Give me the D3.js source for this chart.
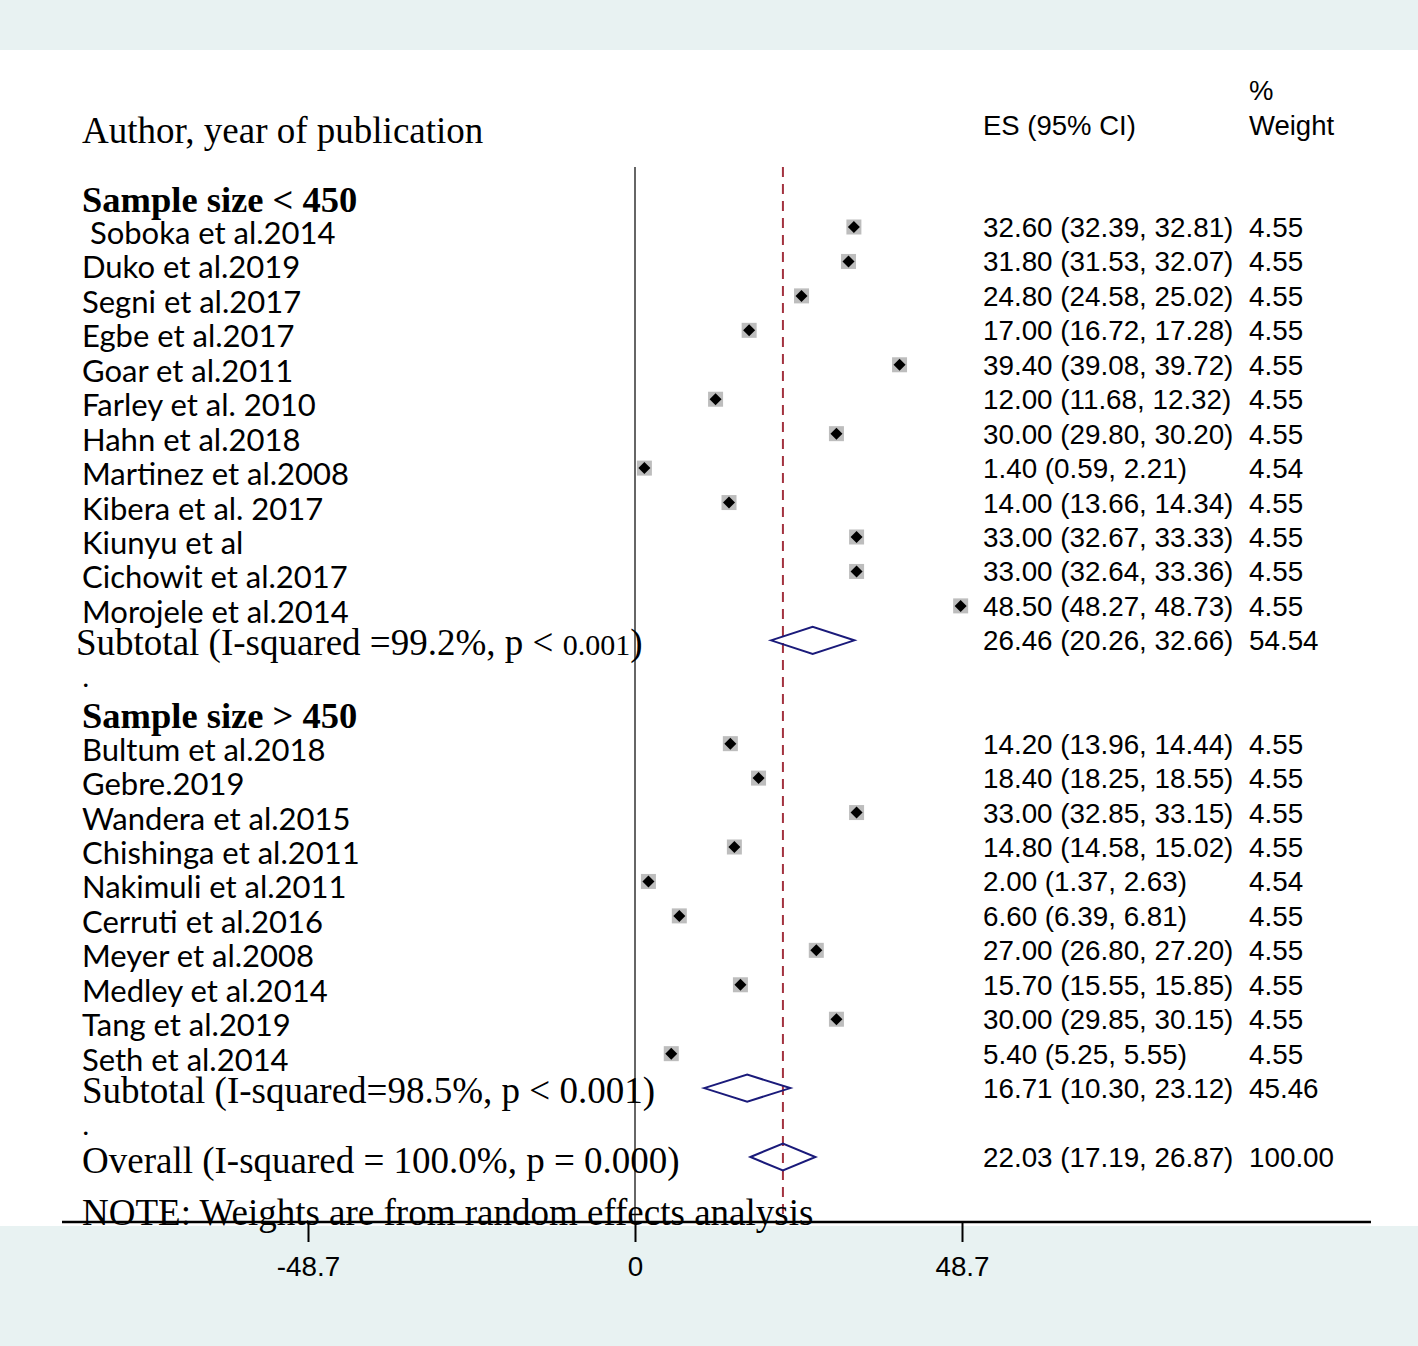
<!DOCTYPE html>
<html>
<head>
<meta charset="utf-8">
<script src="https://cdn.jsdelivr.net/npm/d3@7"></script>
<style>
  body { margin: 0; background: #fff; }
  svg { display: block; }
</style>
</head>
<body>
<div id="chart-area"></div>
<script>
// forest plot data
var group1Labels = [" Soboka et al.2014", "Duko et al.2019", "Segni et al.2017", "Egbe et al.2017",
  "Goar et al.2011", "Farley et al. 2010", "Hahn et al.2018", "Martinez et al.2008",
  "Kibera et al. 2017", "Kiunyu et al", "Cichowit et al.2017", "Morojele et al.2014"];
var group1ES = [32.60, 31.80, 24.80, 17.00, 39.40, 12.00, 30.00, 1.40, 14.00, 33.00, 33.00, 48.50];
var group1Lo = [32.39, 31.53, 24.58, 16.72, 39.08, 11.68, 29.80, 0.59, 13.66, 32.67, 32.64, 48.27];
var group1Hi = [32.81, 32.07, 25.02, 17.28, 39.72, 12.32, 30.20, 2.21, 14.34, 33.33, 33.36, 48.73];
var group1W = [4.55, 4.55, 4.55, 4.55, 4.55, 4.55, 4.55, 4.54, 4.55, 4.55, 4.55, 4.55];

var group2Labels = ["Bultum et al.2018", "Gebre.2019", "Wandera et al.2015", "Chishinga et al.2011",
  "Nakimuli et al.2011", "Cerruti et al.2016", "Meyer et al.2008", "Medley et al.2014",
  "Tang et al.2019", "Seth et al.2014"];
var group2ES = [14.20, 18.40, 33.00, 14.80, 2.00, 6.60, 27.00, 15.70, 30.00, 5.40];
var group2Lo = [13.96, 18.25, 32.85, 14.58, 1.37, 6.39, 26.80, 15.55, 29.85, 5.25];
var group2Hi = [14.44, 18.55, 33.15, 15.02, 2.63, 6.81, 27.20, 15.85, 30.15, 5.55];
var group2W = [4.55, 4.55, 4.55, 4.55, 4.54, 4.55, 4.55, 4.55, 4.55, 4.55];

// pooled estimates: subtotal 1, subtotal 2, overall
var pooledES = [26.46, 16.71, 22.03];
var pooledLo = [20.26, 10.30, 17.19];
var pooledHi = [32.66, 23.12, 26.87];
var pooledW = [54.54, 45.46, 100.00];

var xTicks = [-48.7, 0, 48.7];

var W = 1418, H = 1346;
var serif = "'Liberation Serif', 'Times New Roman', serif";
var sans = "'Liberation Sans', Arial, sans-serif";
var labelFont = "Lato, 'Noto Sans', sans-serif";

var svg = d3.select("#chart-area").append("svg")
  .attr("width", W)
  .attr("height", H);

// background bands top and bottom
svg.append("rect").attr("x", 0).attr("y", 0).attr("width", W).attr("height", 50).attr("fill", "#e8f2f2");
svg.append("rect").attr("x", 0).attr("y", 1226).attr("width", W).attr("height", H - 1226).attr("fill", "#e8f2f2");

var x = d3.scaleLinear().domain([-48.7, 48.7]).range([308, 962]);
// row index -> y
var y = d3.scaleLinear().domain([0, 27]).range([227, 1157]);

// build row table
var rows = [];
group1Labels.forEach(function(d, i) {
  rows.push({label: d, es: group1ES[i], lo: group1Lo[i], hi: group1Hi[i], w: group1W[i], row: i});
});
group2Labels.forEach(function(d, i) {
  rows.push({label: d, es: group2ES[i], lo: group2Lo[i], hi: group2Hi[i], w: group2W[i], row: 15 + i});
});
var pooled = pooledES.map(function(d, i) {
  return {es: d, lo: pooledLo[i], hi: pooledHi[i], w: pooledW[i], row: [12, 25, 27][i]};
});

var axisY = 1222;

// null line
svg.append("line")
  .attr("x1", x(0)).attr("x2", x(0))
  .attr("y1", 167).attr("y2", axisY)
  .attr("stroke", "#333").attr("stroke-width", 1.5);

// overall effect line
svg.append("line")
  .attr("x1", x(pooledES[2])).attr("x2", x(pooledES[2]))
  .attr("y1", 167).attr("y2", axisY)
  .attr("stroke", "#a3323f").attr("stroke-width", 2)
  .attr("stroke-dasharray", "10,7");

// headers
svg.append("text").attr("x", 82).attr("y", 143)
  .attr("font-family", serif).attr("font-size", 37).text("Author, year of publication");
svg.append("text").attr("x", 983).attr("y", 135)
  .attr("font-family", sans).attr("font-size", 27.5).text("ES (95% CI)");
svg.append("text").attr("x", 1249).attr("y", 100)
  .attr("font-family", sans).attr("font-size", 27.5).text("%");
svg.append("text").attr("x", 1249).attr("y", 135)
  .attr("font-family", sans).attr("font-size", 27.5).text("Weight");

// group headers
[["Sample size < 450", -1], ["Sample size > 450", 14]].forEach(function(h) {
  svg.append("text").attr("x", 82).attr("y", y(h[1]) + 19)
    .attr("font-family", serif).attr("font-size", 36.5).attr("font-weight", "bold")
    .text(h[0]);
});

// study labels
svg.selectAll("text.study").data(rows).enter().append("text")
  .attr("class", "study")
  .attr("x", 82)
  .attr("y", function(d) { return y(d.row) + 17; })
  .attr("font-family", labelFont).attr("font-size", 31)
  .style("white-space", "pre")
  .text(function(d) { return d.label; });

// CI lines
svg.selectAll("line.ci").data(rows).enter().append("line")
  .attr("class", "ci")
  .attr("x1", function(d) { return x(d.lo); })
  .attr("x2", function(d) { return x(d.hi); })
  .attr("y1", function(d) { return y(d.row); })
  .attr("y2", function(d) { return y(d.row); })
  .attr("stroke", "#000").attr("stroke-width", 1.5);

// weight boxes
var box = 15;
svg.selectAll("rect.box").data(rows).enter().append("rect")
  .attr("class", "box")
  .attr("x", function(d) { return x(d.es) - box / 2; })
  .attr("y", function(d) { return y(d.row) - box / 2; })
  .attr("width", box).attr("height", box)
  .attr("fill", "#bdbdbd");

// point diamonds
var pd = 6;
svg.selectAll("path.pt").data(rows).enter().append("path")
  .attr("class", "pt")
  .attr("d", function(d) {
    var cx = x(d.es), cy = y(d.row);
    return "M" + (cx - pd) + "," + cy + "L" + cx + "," + (cy - pd) + "L" + (cx + pd) + "," + cy + "L" + cx + "," + (cy + pd) + "Z";
  })
  .attr("fill", "#000");

// pooled diamonds
svg.selectAll("path.pool").data(pooled).enter().append("path")
  .attr("class", "pool")
  .attr("d", function(d) {
    var cy = y(d.row), hh = 13.5;
    return "M" + x(d.lo) + "," + cy + "L" + x(d.es) + "," + (cy - hh) + "L" + x(d.hi) + "," + cy + "L" + x(d.es) + "," + (cy + hh) + "Z";
  })
  .attr("fill", "none").attr("stroke", "#1a1a7a").attr("stroke-width", 2);

// right columns
var fmt = d3.format(".2f");
var allRows = rows.concat(pooled);
svg.selectAll("text.es").data(allRows).enter().append("text")
  .attr("class", "es")
  .attr("x", 983)
  .attr("y", function(d) { return y(d.row) + 10; })
  .attr("font-family", sans).attr("font-size", 27.8)
  .text(function(d) { return fmt(d.es) + " (" + fmt(d.lo) + ", " + fmt(d.hi) + ")"; });
svg.selectAll("text.wt").data(allRows).enter().append("text")
  .attr("class", "wt")
  .attr("x", 1249)
  .attr("y", function(d) { return y(d.row) + 10; })
  .attr("font-family", sans).attr("font-size", 27.8)
  .text(function(d) { return fmt(d.w); });

// subtotal / overall labels
var sub1 = svg.append("text").attr("x", 76).attr("y", y(12) + 15)
  .attr("font-family", serif).attr("font-size", 37);
sub1.append("tspan").text("Subtotal (I-squared =99.2%, p < ");
sub1.append("tspan").attr("font-size", 30).text("0.001");
sub1.append("tspan").text(")");

svg.append("text").attr("x", 82).attr("y", y(25) + 15)
  .attr("font-family", serif).attr("font-size", 37)
  .text("Subtotal (I-squared=98.5%, p < 0.001)");
svg.append("text").attr("x", 82).attr("y", y(27) + 16)
  .attr("font-family", serif).attr("font-size", 37)
  .text("Overall (I-squared = 100.0%, p = 0.000)");

[13, 26].forEach(function(r) {
  svg.append("text").attr("x", 82).attr("y", y(r) + 12)
    .attr("font-family", serif).attr("font-size", 30).text(".");
});

svg.append("text").attr("x", 82).attr("y", 1225)
  .attr("font-family", serif).attr("font-size", 37)
  .text("NOTE: Weights are from random effects analysis");

// x axis
svg.append("line")
  .attr("x1", 62).attr("x2", 1371)
  .attr("y1", axisY).attr("y2", axisY)
  .attr("stroke", "#000").attr("stroke-width", 2.5);

var axis = d3.axisBottom(x).tickValues(xTicks).tickSize(20).tickPadding(6)
  .tickFormat(function(d) { return d === 0 ? "0" : d.toFixed(1); });
var gx = svg.append("g").attr("transform", "translate(0," + axisY + ")").call(axis);
gx.select(".domain").remove();
gx.selectAll(".tick line").attr("stroke", "#000").attr("stroke-width", 2);
gx.selectAll(".tick text").attr("font-family", sans).attr("font-size", 27.8).attr("fill", "#000")
  .attr("dy", "1em");
</script>
</body>
</html>
